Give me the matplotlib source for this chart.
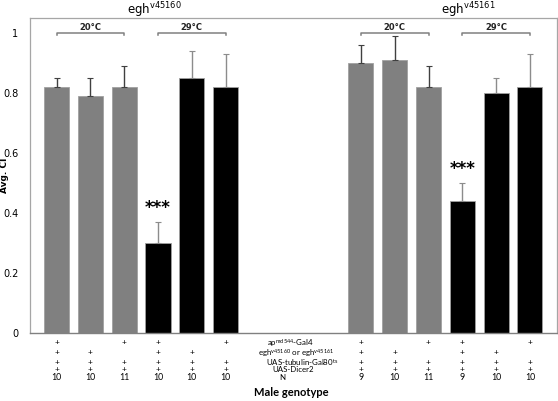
import numpy as np
import matplotlib.pyplot as plt

plt.rcParams['mathtext.default'] = 'regular'

# data
groups = ['egh$^{v45160}$', 'egh$^{v45161}$']
temps = ['20\u00b0C', '29\u00b0C']
means_160 = [0.82, 0.79, 0.82, 0.30, 0.85, 0.82]
errs_160 = [0.03, 0.06, 0.07, 0.07, 0.09, 0.11]
means_161 = [0.90, 0.91, 0.82, 0.44, 0.80, 0.82]
errs_161 = [0.06, 0.08, 0.07, 0.06, 0.05, 0.11]
n_160 = [10, 10, 11, 10, 10, 10]
n_161 = [9, 10, 11, 9, 10, 10]
row_labels = ['ap$^{md544}$-Gal4', 'egh$^{v45160}$ or egh$^{v45161}$',
              'UAS-tubulin-Gal80$^{ts}$', 'UAS-Dicer2', 'N']
# which transgenes are present (+) for each of the six bars in a group
present = [[1, 0, 1, 1, 0, 1],
           [1, 1, 0, 1, 1, 0],
           [1, 1, 1, 1, 1, 1],
           [1, 1, 1, 1, 1, 1]]
signif = ['', '', '', '***', '', '']

fig = plt.figure(figsize=(5.58, 4.01), dpi=100)
ax = fig.add_axes([0.0529, 0.1696, 0.9453, 0.7855])

x1 = np.arange(6)
x2 = np.arange(6) + 9
colors = ['#808080'] * 3 + ['#000000'] * 3
ecols = ['#404040'] * 3 + ['#8c8c8c'] * 3

for xs, m, e in [(x1, means_160, errs_160), (x2, means_161, errs_161)]:
    ax.bar(xs, m, width=0.74, color=colors, edgecolor='#a0a0a0', linewidth=0.6, zorder=2)
    for xi, mi, ei, ec in zip(xs, m, e, ecols):
        ax.errorbar(xi, mi, yerr=[[0], [ei]], fmt='none', ecolor=ec,
                    elinewidth=1.0, capsize=2, capthick=0.8, zorder=3)
    for xi, mi, ei, s in zip(xs, m, e, signif):
        if s:
            ax.text(xi, mi + ei + 0.045, s, ha='center', va='center',
                    fontsize=12, fontweight='bold', color='black')
    # temperature brackets
    for k, t in enumerate(temps):
        a, b = xs[3 * k], xs[3 * k + 2]
        ax.plot([a, a, b, b], [0.992, 1.0, 1.0, 0.992], color='#808080', lw=1.1,
                clip_on=False)
        ax.text((a + b) / 2, 1.02, t, ha='center', va='center', fontsize=6,
                fontweight='bold', color='#222222')

# group titles
ax.text(2.89, 1.077, groups[0], ha='center', va='center', fontsize=8.5, clip_on=False)
ax.text(12.17, 1.077, groups[1], ha='center', va='center', fontsize=8.5, clip_on=False)

# genotype table under the bars
row_y = [-0.032, -0.066, -0.097, -0.123, -0.150]
lab_x = [6.9, 7.08, 7.26, 7.0, 6.67]
for xs, ns in [(x1, n_160), (x2, n_161)]:
    for r in range(4):
        for xi, p in zip(xs, present[r]):
            if p:
                ax.text(xi, row_y[r], '+', ha='center', va='center', fontsize=6,
                        family='Lato', clip_on=False)
    for xi, n in zip(xs, ns):
        ax.text(xi, row_y[4], str(n), ha='center', va='center', fontsize=6.3,
                family='Lato', clip_on=False)
for lab, lx, ly in zip(row_labels, lab_x, row_y):
    ax.text(lx, ly, lab, ha='center', va='center', fontsize=5.7, family='Lato',
            clip_on=False)
ax.text(6.94, -0.2, 'Male genotype', ha='center', va='center', fontsize=8,
        fontweight='bold', family='Lato', clip_on=False)

ax.set_xlim(-0.8, 14.8)
ax.set_ylim(0, 1.05)
ax.set_xticks([])
ax.set_yticks([0, 0.2, 0.4, 0.6, 0.8, 1])
ax.set_yticklabels(['0', '0.2', '0.4', '0.6', '0.8', '1'])
ax.tick_params(axis='y', length=0, labelsize=7, pad=8)
ax.set_ylabel('Avg. CI', fontsize=6.5, fontweight='bold')
ax.yaxis.set_label_coords(-0.038, 0.5)
for side in ['top', 'left', 'right']:
    ax.spines[side].set_color('#a6a6a6')
    ax.spines[side].set_linewidth(0.9)
ax.spines['bottom'].set_color('#808080')
ax.spines['bottom'].set_linewidth(1.0)

fig.savefig('out.png', dpi=100)
